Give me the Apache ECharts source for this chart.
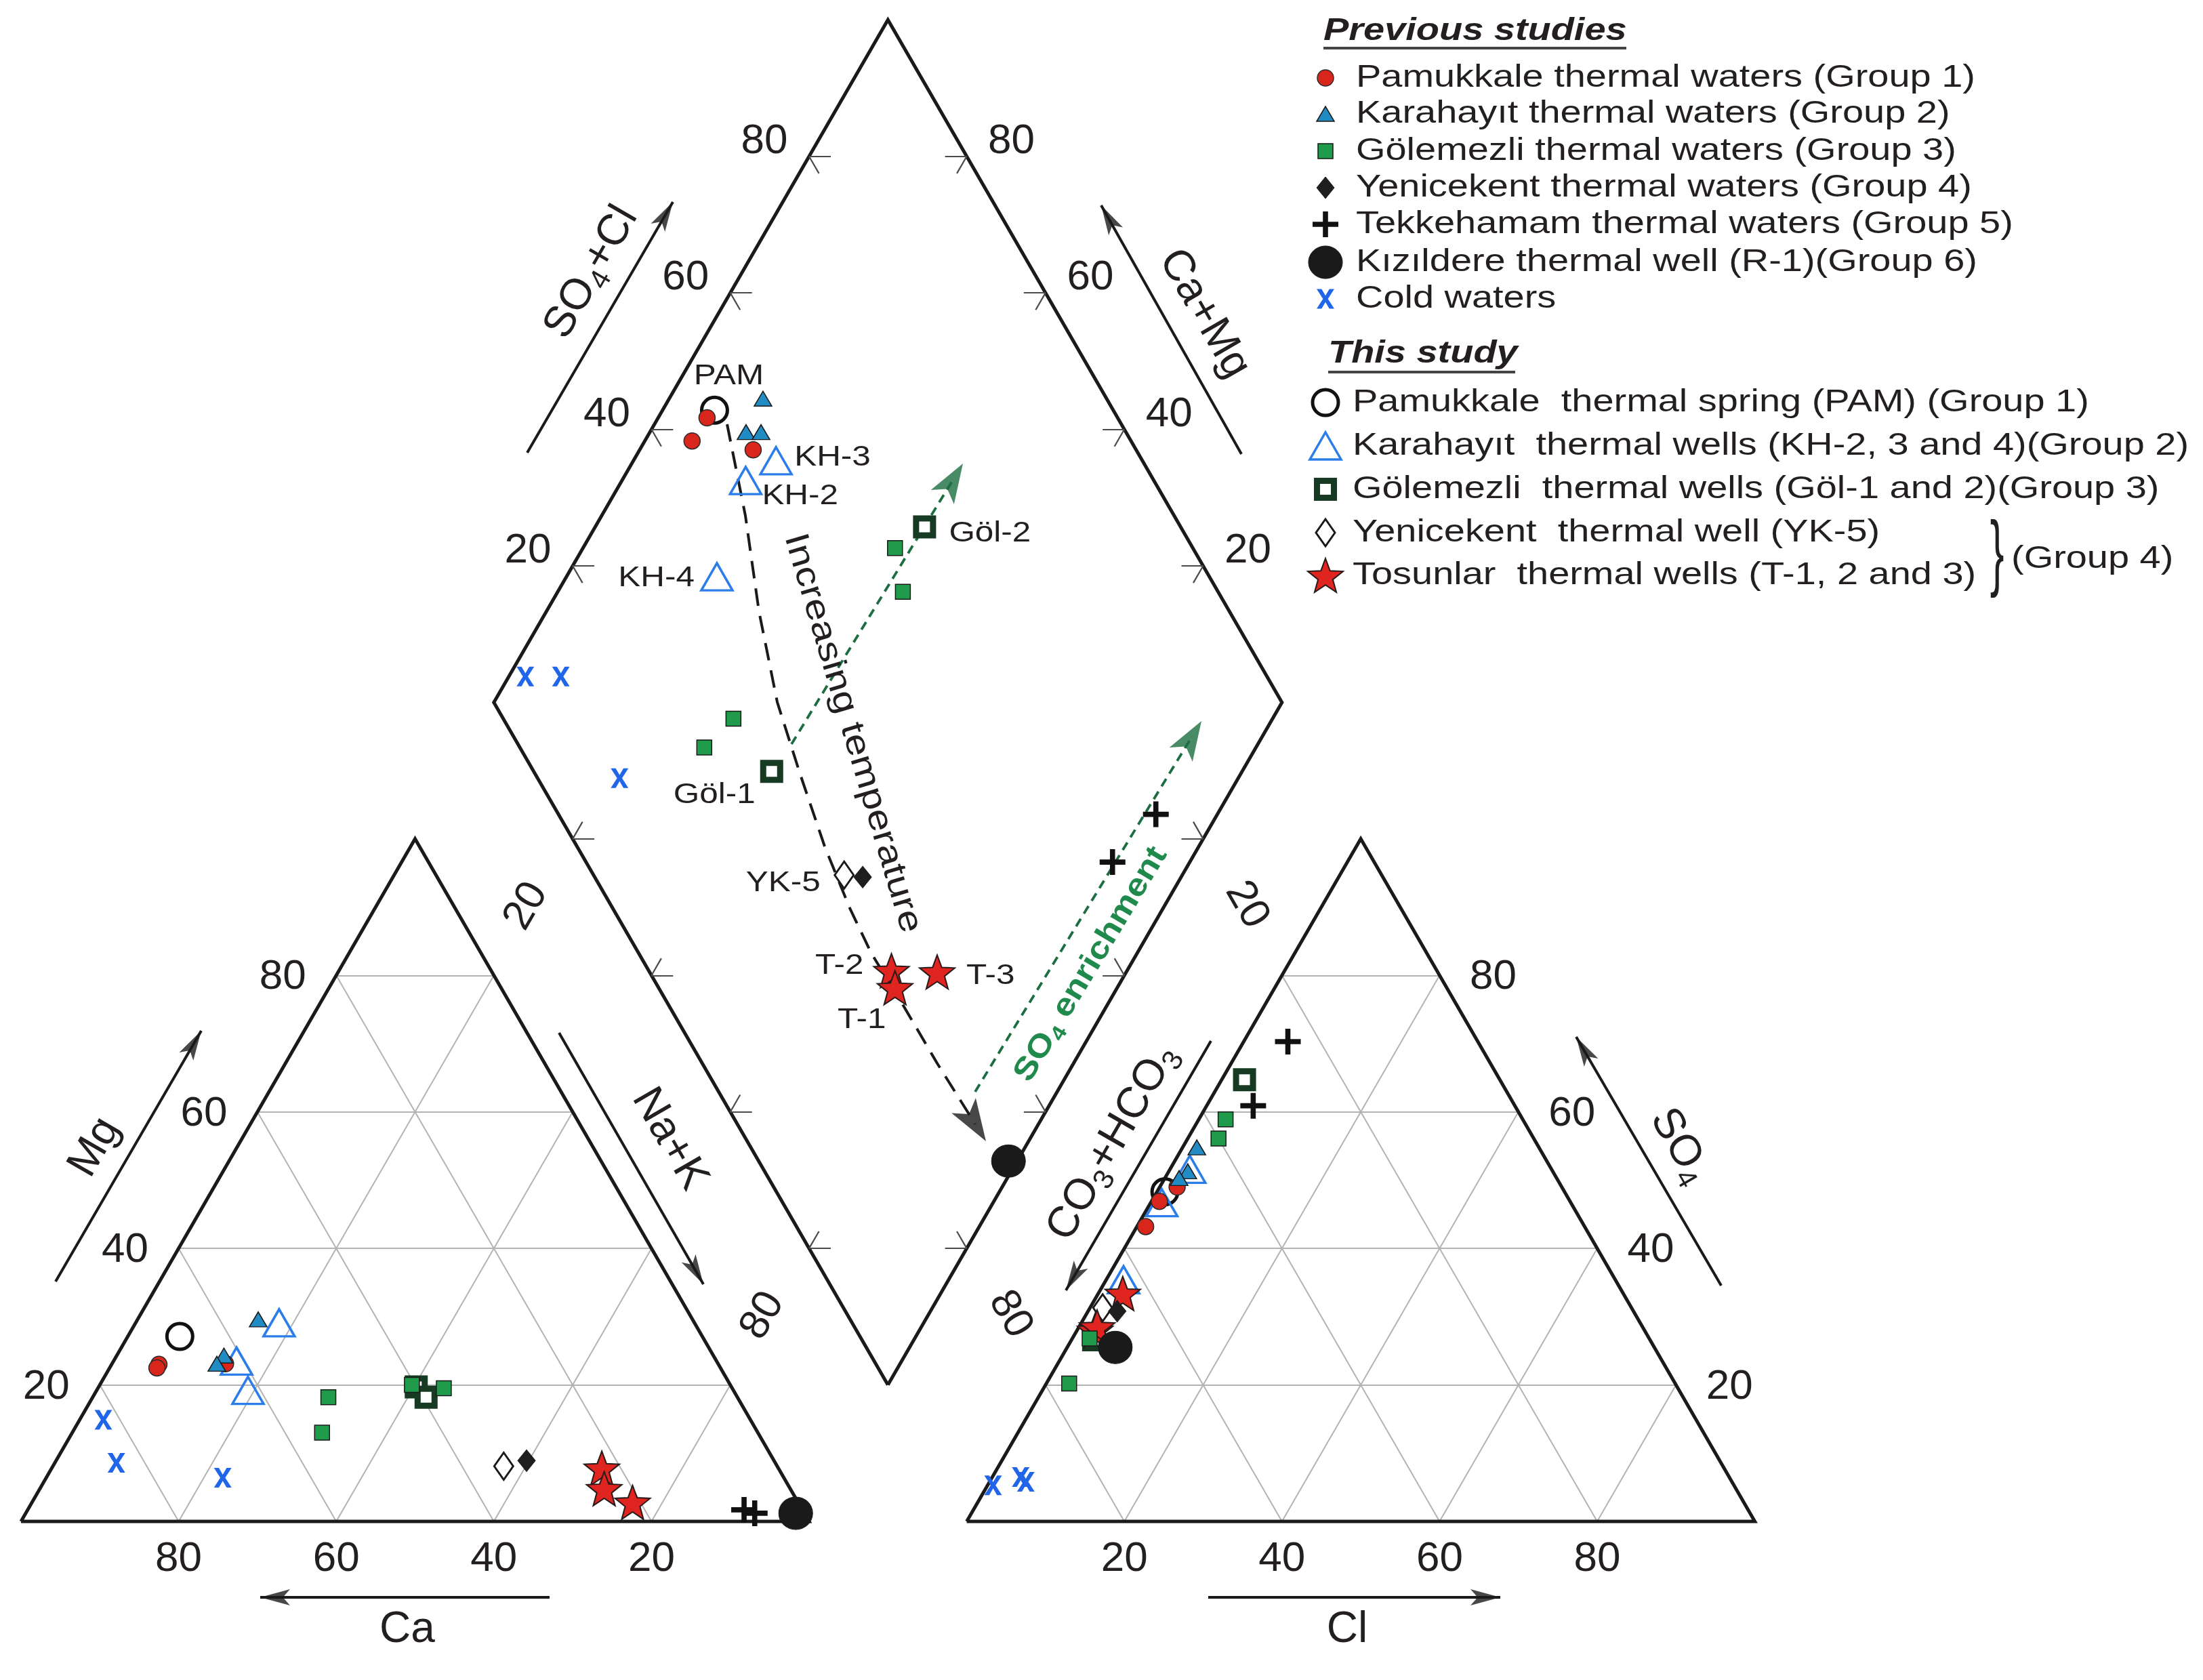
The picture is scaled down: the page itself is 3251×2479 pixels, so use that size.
<!DOCTYPE html>
<html>
<head>
<meta charset="utf-8">
<title>Piper diagram</title>
<script src="https://cdn.jsdelivr.net/npm/echarts@6.0.0/dist/echarts.min.js"></script>
<style>
html,body{margin:0;padding:0;background:#ffffff;}
#chart{width:3251px;height:2479px;}
</style>
</head>
<body>
<div id="chart"></div>
<script>
// ===================== DATA =====================
const TICK_VALUES = [20, 40, 60, 80];

// Cation triangle: [Ca, Mg, Na+K] in % meq
const catPamukkale  = [[71.0, 23.0, 6.0], [71.5, 22.5, 6.0], [62.5, 23.1, 14.4]];
const catKarahayit  = [[55.1, 29.6, 15.3], [62.1, 24.3, 13.6], [63.6, 23.1, 13.3]];
const catGolemezli  = [[51.9, 18.2, 29.9], [55.3, 13.0, 31.7], [36.6, 19.5, 43.9], [40.4, 20.0, 39.6]];
const catYenicekent = [[31.4, 8.9, 59.7]];
const catTekkehamam = [[7.4, 1.7, 90.9], [6.3, 1.2, 92.5]];
const catKizildere  = [[1.1, 1.2, 97.7]];
const catCold       = [[82.1, 14.9, 3.0], [83.6, 8.6, 7.8], [71.2, 6.4, 22.4]];
const catPAM        = [[66.3, 27.1, 6.6]];
const catKH         = [[52.7, 29.1, 18.2], [60.9, 23.5, 15.6], [61.6, 19.2, 19.2]];
const catGol        = [[40.0, 19.7, 40.3], [39.5, 18.2, 42.3]];
const catYK         = [[34.7, 8.1, 57.2]];
const catT          = [[22.4, 7.8, 69.8], [23.6, 4.8, 71.6], [21.0, 2.8, 76.2]];

// Anion triangle: [CO3+HCO3, SO4, Cl] in % meq
const anPamukkale  = [[52.1, 46.9, 1.0], [55.7, 43.2, 1.1], [48.8, 49.0, 2.2]];
const anKarahayit  = [[43.4, 54.8, 1.8], [46.3, 51.3, 2.4], [47.9, 50.3, 1.8]];
const anGolemezli  = [[76.9, 20.2, 2.9], [71.0, 26.8, 2.2], [37.7, 58.9, 3.4], [40.0, 56.1, 3.9]];
const anYenicekent = [[65.5, 30.8, 3.7]];
const anTekkehamam = [[24.1, 70.3, 5.6], [33.2, 60.9, 5.9]];
const anKizildere  = [[68.4, 25.5, 6.1]];
const anCold       = [[94.0, 5.3, 0.7], [89.9, 6.5, 3.6], [89.6, 5.8, 4.6]];
const anPAM        = [[50.7, 48.3, 1.0]];
const anKH         = [[45.9, 51.6, 2.5], [51.9, 46.7, 1.4], [62.4, 35.4, 2.2]];
const anGol        = [[32.4, 64.7, 2.9], [70.6, 26.6, 2.8]];
const anYK         = [[67.1, 31.3, 1.6]];
const anT          = [[63.5, 33.4, 3.1], [69.7, 28.0, 2.3], [69.2, 28.5, 2.3]];

// Diamond: [Ca+Mg, SO4+Cl] in % meq
const diaPamukkale  = [[93.8, 47.9], [94.0, 44.3], [85.6, 51.4]];
const diaKarahayit  = [[88.1, 56.4], [87.8, 51.8], [85.9, 53.7]];
const diaGolemezli  = [[60.4, 62.2], [56.2, 60.0], [68.4, 29.2], [70.0, 23.4]];
const diaYenicekent = [[40.4, 34.0]];
const diaTekkehamam = [[7.8, 75.8], [9.8, 66.8]];
const diaKizildere  = [[1.1, 31.7]];
const diaCold       = [[97.9, 5.9], [93.4, 10.4], [78.5, 10.4]];
const diaPAM        = [[93.4, 49.4]];
const diaKH         = [[81.9, 53.5], [84.3, 48.2], [80.9, 37.5]];
const diaGol        = [[58.2, 67.5], [59.7, 30.2]];
const diaYK         = [[42.9, 31.8]];
const diaT          = [[29.9, 30.8], [28.2, 30.0], [24.0, 36.5]];

// sample labels in the diamond (names; the point they belong to)
const labelNames = ['PAM', 'KH-3', 'KH-2', 'KH-4', 'Göl-2', 'Göl-1', 'YK-5', 'T-2', 'T-1', 'T-3'];
const labelPoints = [diaPAM[0], diaKH[0], diaKH[1], diaKH[2], diaGol[0], diaGol[1], diaYK[0], diaT[0], diaT[1], diaT[2]];

// ===================== GEOMETRY =====================
const W = 3251, H = 2479;
const SQ = Math.sqrt(3) / 2;
const GAP = 20;
const X_MIN = -2.665, X_MAX = 276.87, Y_MIN = -20.12, Y_MAX = 193.04;
function catXY(p) { return [p[2] + p[1] / 2, p[1] * SQ]; }
function anXY(p) { return [100 + GAP + p[2] + p[1] / 2, p[1] * SQ]; }
function diaXY(p) { return [100 + GAP / 2 + 0.5 * (p[1] - p[0]), GAP * SQ + SQ * (p[0] + p[1])]; }
function px2u(X, Y) { return [X_MIN + X / W * (X_MAX - X_MIN), Y_MAX - Y / H * (Y_MAX - Y_MIN)]; }

const FONT = "'Liberation Sans', Arial, Helvetica, sans-serif";

// symbol shapes
function starPathData() {
  let d = '';
  for (let i = 0; i < 10; i++) {
    const r = i % 2 === 0 ? 50 : 21;
    const a = -Math.PI / 2 + i * Math.PI / 5;
    d += (i === 0 ? 'M' : 'L') + (50 + r * Math.cos(a)).toFixed(2) + ',' + (52 + r * Math.sin(a)).toFixed(2) + ' ';
  }
  return d + 'Z';
}
const STAR_D = starPathData();
const PLUS_D = 'M4,0 L6,0 L6,4 L10,4 L10,6 L6,6 L6,10 L4,10 L4,6 L0,6 L0,4 L4,4 Z';
const X_D = 'M0,0 L2.8,0 L5,3.4 L7.2,0 L10,0 L6.4,5 L10,10 L7.2,10 L5,6.6 L2.8,10 L0,10 L3.6,5 Z';
const HEAD_D = 'M5,0 L10,10 L5,7.6 L0,10 Z';

// groups (drawing order: this study first, previous studies on top)
const groups = [
  { name: 'Pamukkale  thermal spring (PAM) (Group 1)', cat: catPAM, an: anPAM, dia: diaPAM,
    kind: 'circle', size: [38, 38], fill: 'rgba(0,0,0,0)', stroke: '#111', lw: 5 },
  { name: 'Karahayıt  thermal wells (KH-2, 3 and 4)(Group 2)', cat: catKH, an: anKH, dia: diaKH,
    kind: 'triangle', size: [46, 40], fill: 'rgba(0,0,0,0)', stroke: '#2b7de9', lw: 3.5 },
  { name: 'Gölemezli  thermal wells (Göl-1 and 2)(Group 3)', cat: catGol, an: anGol, dia: diaGol,
    kind: 'rect', size: [25, 25], fill: '#ffffff', stroke: '#173a22', lw: 9 },
  { name: 'Yenicekent  thermal well (YK-5)', cat: catYK, an: anYK, dia: diaYK,
    kind: 'diamond', size: [28, 40], fill: '#ffffff', stroke: '#1a1a1a', lw: 3 },
  { name: 'Tosunlar  thermal wells (T-1, 2 and 3)', cat: catT, an: anT, dia: diaT,
    kind: 'star', size: [52, 50], fill: '#e0241f', stroke: '#2a1a1a', lw: 2 },
  { name: 'Cold waters', cat: catCold, an: anCold, dia: diaCold,
    kind: 'x', size: [26, 29], fill: '#2166e8', stroke: null, lw: 0 },
  { name: 'Pamukkale thermal waters (Group 1)', cat: catPamukkale, an: anPamukkale, dia: diaPamukkale,
    kind: 'circle', size: [24, 24], fill: '#d9261c', stroke: '#2a2a2a', lw: 1.5 },
  { name: 'Karahayıt thermal waters (Group 2)', cat: catKarahayit, an: anKarahayit, dia: diaKarahayit,
    kind: 'triangle', size: [26, 22], fill: '#218bc4', stroke: '#1a1a1a', lw: 1.5 },
  { name: 'Gölemezli thermal waters (Group 3)', cat: catGolemezli, an: anGolemezli, dia: diaGolemezli,
    kind: 'rect', size: [22, 22], fill: '#1f9b4b', stroke: '#1a1a1a', lw: 1.5 },
  { name: 'Yenicekent thermal waters (Group 4)', cat: catYenicekent, an: anYenicekent, dia: diaYenicekent,
    kind: 'diamond', size: [26, 32], fill: '#1e1e1e', stroke: '#1e1e1e', lw: 1 },
  { name: 'Tekkehamam thermal waters (Group 5)', cat: catTekkehamam, an: anTekkehamam, dia: diaTekkehamam,
    kind: 'plus', size: [38, 38], fill: '#111', stroke: null, lw: 0 },
  { name: 'Kızıldere thermal well (R-1)(Group 6)', cat: catKizildere, an: anKizildere, dia: diaKizildere,
    kind: 'circle', size: [50, 48], fill: '#1a1a1a', stroke: '#1a1a1a', lw: 1 }
];
function echSymbol(kind) {
  if (kind === 'star') return 'path://' + STAR_D;
  if (kind === 'plus') return 'path://' + PLUS_D;
  if (kind === 'x') return 'path://' + X_D;
  return kind;
}

// ---------- frame and grid ----------
const frameCoords = [
  [catXY([100, 0, 0]), catXY([0, 0, 100]), catXY([0, 100, 0]), catXY([100, 0, 0])],
  [anXY([100, 0, 0]), anXY([0, 0, 100]), anXY([0, 100, 0]), anXY([100, 0, 0])],
  [diaXY([0, 0]), diaXY([100, 0]), diaXY([100, 100]), diaXY([0, 100]), diaXY([0, 0])]
];
function triGrid(fn) {
  const s = [];
  TICK_VALUES.forEach(k => {
    s.push([fn([100 - k, k, 0]), fn([0, k, 100 - k])]);
    s.push([fn([100 - k, 0, k]), fn([0, 100 - k, k])]);
    s.push([fn([k, 0, 100 - k]), fn([k, 100 - k, 0])]);
  });
  return s;
}
const gridSegs = triGrid(catXY).concat(triGrid(anXY));
const tickSegs = [];
const TH = 2.75, TD = 2.5;
TICK_VALUES.forEach(k => {
  const ul = diaXY([100, k]), ur = diaXY([k, 100]), ll = diaXY([k, 0]), lr = diaXY([0, k]);
  tickSegs.push([ul, [ul[0] + TH, ul[1]]], [ul, [ul[0] + 0.5 * TD, ul[1] - SQ * TD]]);
  tickSegs.push([ur, [ur[0] - TH, ur[1]]], [ur, [ur[0] - 0.5 * TD, ur[1] - SQ * TD]]);
  tickSegs.push([ll, [ll[0] + TH, ll[1]]], [ll, [ll[0] + 0.5 * TD, ll[1] + SQ * TD]]);
  tickSegs.push([lr, [lr[0] - TH, lr[1]]], [lr, [lr[0] - 0.5 * TD, lr[1] + SQ * TD]]);
});

// ---------- annotation arrows (pixel positions) ----------
const axisArrows = [
  [[82, 1891], [297, 1521]],     // Mg
  [[825, 1524], [1038, 1895]],   // Na+K
  [[811, 2357], [384, 2357]],    // Ca
  [[1783, 2357], [2214, 2357]],  // Cl
  [[2540, 1897], [2326, 1530]],  // SO4
  [[1787, 1536], [1573, 1904]],  // CO3+HCO3
  [[778, 668], [993, 298]],      // SO4+Cl
  [[1832, 670], [1625, 303]]     // Ca+Mg
];
const tempPath = [[1073, 626], [1100, 761], [1120, 902], [1147, 1036], [1180, 1140], [1217, 1249],
  [1254, 1340], [1286, 1407], [1332, 1482], [1383, 1569], [1455, 1684]];
const greenArrow1 = [[1168, 1098], [1421, 684]];
const greenArrow2 = [[1439, 1611], [1773, 1064]];

function arrowHead(tail, tip, w, h, color) {
  const dx = tip[0] - tail[0], dy = tip[1] - tail[1];
  const L = Math.hypot(dx, dy), ux = dx / L, uy = dy / L;
  const c = [tip[0] - ux * h / 2, tip[1] - uy * h / 2];
  const ang = Math.atan2(-dy, dx) * 180 / Math.PI;
  return { value: px2u(c[0], c[1]), symbolSize: [w, h], symbolRotate: ang - 90, itemStyle: { color: color } };
}
const heads = axisArrows.map(a => arrowHead(a[0], a[1], 24, 44, '#1a1a1a'));
heads.push(arrowHead(tempPath[tempPath.length - 2], tempPath[tempPath.length - 1], 42, 62, '#1a1a1a'));
heads.push(arrowHead(greenArrow1[0], greenArrow1[1], 40, 58, '#1c6e40'));
heads.push(arrowHead(greenArrow2[0], greenArrow2[1], 40, 58, '#1c6e40'));
function shorten(pts, h) {
  const n = pts.length, a = pts[n - 2], b = pts[n - 1];
  const dx = b[0] - a[0], dy = b[1] - a[1], L = Math.hypot(dx, dy);
  const out = pts.slice(0, n - 1);
  out.push([b[0] - dx / L * h, b[1] - dy / L * h]);
  return out;
}

// ---------- series ----------
const series = [
  { type: 'lines', coordinateSystem: 'cartesian2d', silent: true, z: 1,
    lineStyle: { color: '#b3b3b3', width: 2, opacity: 1 },
    data: gridSegs.map(s => ({ coords: s })) },
  { type: 'lines', coordinateSystem: 'cartesian2d', silent: true, z: 2, polyline: true,
    lineStyle: { color: '#1a1a1a', width: 5, opacity: 1, join: 'miter' },
    data: frameCoords.map(c => ({ coords: c })) },
  { type: 'lines', coordinateSystem: 'cartesian2d', silent: true, z: 2,
    lineStyle: { color: '#4a4a4a', width: 2.2, opacity: 1 },
    data: tickSegs.map(s => ({ coords: s })) },
  { type: 'lines', coordinateSystem: 'cartesian2d', silent: true, z: 3,
    lineStyle: { color: '#1a1a1a', width: 4, opacity: 1 },
    data: axisArrows.map(a => ({ coords: [px2u(a[0][0], a[0][1]), px2u(a[1][0], a[1][1])] })) },
  { type: 'lines', coordinateSystem: 'cartesian2d', silent: true, z: 3, polyline: true,
    lineStyle: { color: '#1a1a1a', width: 4, opacity: 1, type: [26, 15] },
    data: [{ coords: shorten(tempPath, 30).map(p => px2u(p[0], p[1])) }] },
  { type: 'lines', coordinateSystem: 'cartesian2d', silent: true, z: 3,
    lineStyle: { color: '#1c6e40', width: 3.8, opacity: 1, type: [13, 9] },
    data: [greenArrow1, greenArrow2].map(a => ({ coords: shorten(a, 30).map(p => px2u(p[0], p[1])) })) },
  { type: 'scatter', silent: true, z: 4, symbol: 'path://' + HEAD_D, data: heads }
];
groups.forEach((g, i) => {
  const pts = g.cat.map(catXY).concat(g.an.map(anXY)).concat(g.dia.map(diaXY));
  series.push({
    type: 'scatter', name: g.name, z: 5 + i, silent: true,
    symbol: echSymbol(g.kind), symbolSize: g.size,
    itemStyle: { color: g.fill, borderColor: g.stroke || g.fill, borderWidth: g.lw, opacity: 1 },
    data: pts
  });
});

const chart = echarts.init(document.getElementById('chart'), null, { renderer: 'canvas', width: W, height: H });
chart.setOption({
  animation: false,
  backgroundColor: '#ffffff',
  grid: { left: 0, right: 0, top: 0, bottom: 0 },
  xAxis: { type: 'value', min: X_MIN, max: X_MAX, show: false },
  yAxis: { type: 'value', min: Y_MIN, max: Y_MAX, show: false },
  series: series
});

// ===================== TEXT & LEGEND (graphic) =====================
function P(u) { return chart.convertToPixel({ gridIndex: 0 }, u); }
function T(text, x, y, o) {
  o = o || {};
  const st = {
    text: text, fontSize: o.fs || 62, fontFamily: FONT, fontWeight: o.fw || 'normal',
    fontStyle: o.fst || 'normal', fill: o.color || '#231f20',
    align: o.align || 'center', verticalAlign: 'middle',
    textAlign: o.align || 'center', textVerticalAlign: 'middle'
  };
  if (o.rich) st.rich = o.rich;
  return { type: 'text', x: x, y: y, rotation: (o.rot || 0) * Math.PI / 180, scaleX: o.sx || 1, z: 50, silent: true, style: st };
}
const G = [];
const TICK_FS = 62;
TICK_VALUES.forEach(k => {
  let p;
  p = P(catXY([100 - k, k, 0])); G.push(T(String(k), p[0] - 79, p[1] + 3, { fs: TICK_FS }));
  p = P(catXY([k, 0, 100 - k])); G.push(T(String(k), p[0], p[1] + 56, { fs: TICK_FS }));
  p = P(anXY([0, k, 100 - k])); G.push(T(String(k), p[0] + 79, p[1] + 3, { fs: TICK_FS }));
  p = P(anXY([100 - k, 0, k])); G.push(T(String(k), p[0], p[1] + 56, { fs: TICK_FS }));
  p = P(diaXY([100, k])); G.push(T(String(k), p[0] - 66, p[1] - 22, { fs: TICK_FS }));
  p = P(diaXY([k, 100])); G.push(T(String(k), p[0] + 66, p[1] - 22, { fs: TICK_FS }));
});
[20, 80].forEach(k => {
  let p = P(catXY([0, 100 - k, k])); G.push(T(String(k), p[0] + 48, p[1] - 102, { fs: TICK_FS, rot: 60 }));
  p = P(anXY([k, 100 - k, 0])); G.push(T(String(k), p[0] - 52, p[1] - 104, { fs: TICK_FS, rot: -60 }));
});

// axis titles
const AX_FS = 64;
const richAx = { a: { fontSize: AX_FS, fontFamily: FONT, fill: '#231f20', lineHeight: 78 },
                 s: { fontSize: 42, fontFamily: FONT, fill: '#231f20', verticalAlign: 'bottom' } };
G.push(T('Mg', 140, 1693, { fs: AX_FS, rot: 60 }));
G.push(T('Na+K', 988, 1681, { fs: AX_FS, rot: -60 }));
G.push(T('Ca', 601, 2405, { fs: AX_FS }));
G.push(T('Cl', 1988, 2405, { fs: AX_FS }));
G.push(T('{a|SO}{s|4}', 2479, 1691, { fs: AX_FS, rot: -60, rich: richAx }));
G.push(T('{a|CO}{s|3}{a|+HCO}{s|3}', 1642, 1686, { fs: AX_FS, rot: 60, rich: richAx }));
G.push(T('{a|SO}{s|4}{a|+Cl}', 873, 402, { fs: AX_FS, rot: 60, rich: richAx }));
G.push(T('Ca+Mg', 1777, 463, { fs: AX_FS, rot: -60 }));

// diagram annotations
G.push(T('Increasing temperature', 1258, 1082, { fs: 50, sx: 1.19, rot: -73.5 }));
G.push(T('{b|SO}{s|4}{b| enrichment}', 1610, 1423, { rot: 59, rich: {
  b: { fontSize: 46, fontFamily: FONT, fontWeight: 'bold', fill: '#1f8a4c', lineHeight: 56 },
  s: { fontSize: 30, fontFamily: FONT, fontWeight: 'bold', fill: '#1f8a4c', verticalAlign: 'bottom' } }, sx: 1.15 }));

// sample labels (offsets in px from their diamond point)
const labelOffsets = [[21, -50, 'center'], [27, -5, 'left'], [24, 23, 'left'], [-33, 2, 'right'], [36, 10, 'left'],
  [-24, 35, 'right'], [-35, 12, 'right'], [-41, -7, 'right'], [-49, 48, 'center'], [43, 6, 'left']];
labelNames.forEach((n, i) => {
  const p = P(diaXY(labelPoints[i]));
  const o = labelOffsets[i];
  G.push(T(n, p[0] + o[0], p[1] + o[1], { fs: 43, sx: 1.15, align: o[2] }));
});

// ---------- legend ----------
function pathPolygon(d, x, y, w, h) {
  const nums = d.match(/-?\d+(\.\d+)?/g).map(Number);
  const pts = [];
  for (let i = 0; i + 1 < nums.length; i += 2) pts.push([nums[i], nums[i + 1]]);
  const xs = pts.map(p => p[0]), ys = pts.map(p => p[1]);
  const x0 = Math.min.apply(null, xs), x1 = Math.max.apply(null, xs);
  const y0 = Math.min.apply(null, ys), y1 = Math.max.apply(null, ys);
  return pts.map(p => [x + (p[0] - x0) / (x1 - x0) * w, y + (p[1] - y0) / (y1 - y0) * h]);
}
function legendSymbol(g, cx, cy) {
  const w = g.size[0], h = g.size[1];
  const style = { fill: g.fill, stroke: g.stroke || null, lineWidth: g.lw };
  let el;
  if (g.kind === 'circle') el = { type: 'ellipse', shape: { cx: cx, cy: cy, rx: w / 2, ry: h / 2 } };
  else if (g.kind === 'triangle') el = { type: 'polygon', shape: { points: [[cx, cy - h / 2], [cx + w / 2, cy + h / 2], [cx - w / 2, cy + h / 2]] } };
  else if (g.kind === 'rect') el = { type: 'rect', shape: { x: cx - w / 2, y: cy - h / 2, width: w, height: h } };
  else if (g.kind === 'diamond') el = { type: 'polygon', shape: { points: [[cx, cy - h / 2], [cx + w / 2, cy], [cx, cy + h / 2], [cx - w / 2, cy]] } };
  else {
    const d = g.kind === 'star' ? STAR_D : (g.kind === 'plus' ? PLUS_D : X_D);
    el = { type: 'polygon', shape: { points: pathPolygon(d, cx - w / 2, cy - h / 2, w, h) } };
  }
  el.style = style; el.z = 50; el.silent = true;
  return el;
}
const LEG_FS = 47, LEG_SX = 1.19;
G.push(T('Previous studies', 1953, 46, { fs: LEG_FS, sx: LEG_SX, fw: 'bold', fst: 'italic', align: 'left' }));
G.push({ type: 'line', shape: { x1: 1953, y1: 71, x2: 2400, y2: 71 }, style: { stroke: '#444', lineWidth: 4 }, z: 50, silent: true });
const prevRows = [115, 168, 223, 277, 331, 387, 441];
const prevOrder = [6, 7, 8, 9, 10, 11, 5];
prevOrder.forEach((gi, r) => {
  G.push(legendSymbol(groups[gi], 1956, prevRows[r]));
  G.push(T(groups[gi].name, 2001, prevRows[r], { fs: LEG_FS, sx: LEG_SX, align: 'left' }));
});
G.push(T('This study', 1960, 522, { fs: LEG_FS, sx: LEG_SX, fw: 'bold', fst: 'italic', align: 'left' }));
G.push({ type: 'line', shape: { x1: 1960, y1: 549, x2: 2236, y2: 549 }, style: { stroke: '#444', lineWidth: 4 }, z: 50, silent: true });
const thisRows = [594, 658, 722, 786, 849];
[0, 1, 2, 3, 4].forEach((gi, r) => {
  G.push(legendSymbol(groups[gi], 1956, thisRows[r]));
  G.push(T(groups[gi].name, 1996, thisRows[r], { fs: LEG_FS, sx: LEG_SX, align: 'left' }));
});
G.push(T('}', 2947, 822, { fs: 124, sx: 0.5 }));
G.push(T('(Group 4)', 2968, 825, { fs: LEG_FS, sx: LEG_SX, align: 'left' }));

chart.setOption({ graphic: { elements: G } });
</script>
</body>
</html>
